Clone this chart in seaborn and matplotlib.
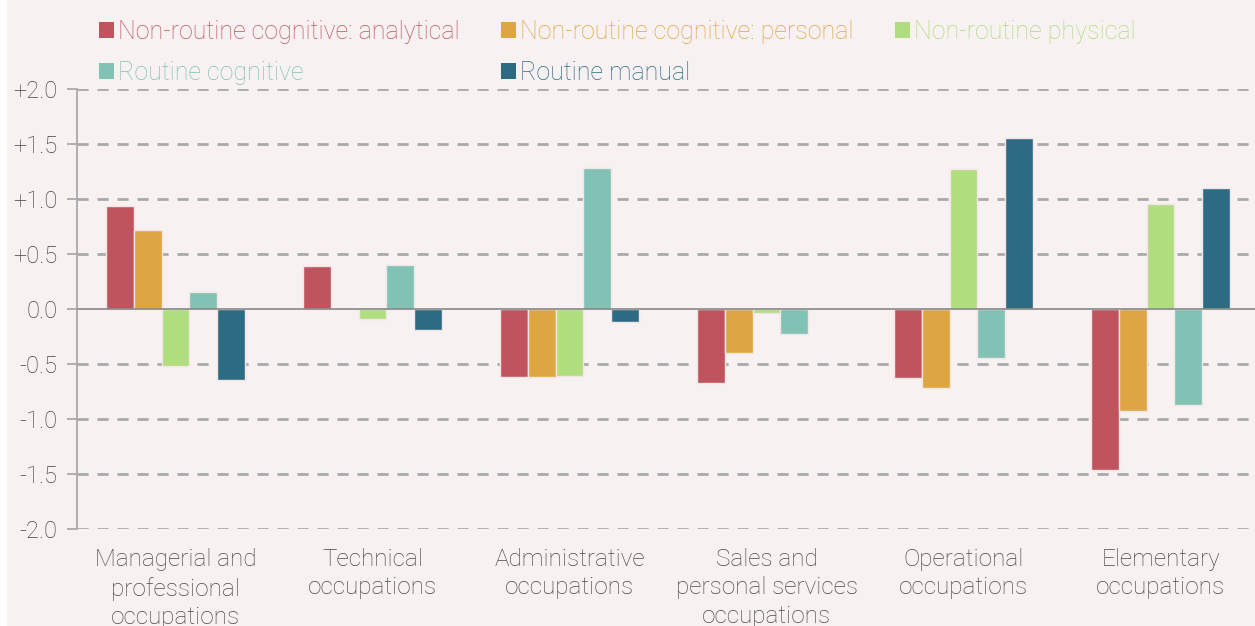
import pandas as pd
import matplotlib.pyplot as plt
import seaborn as sns
from matplotlib.patches import Rectangle, Patch

# ====================== DATA ======================
occupations = [
    'Managerial and\nprofessional\noccupations',
    'Technical\noccupations',
    'Administrative\noccupations',
    'Sales and\npersonal services\noccupations',
    'Operational\noccupations',
    'Elementary\noccupations',
]
tasks = [
    'Non-routine cognitive: analytical',
    'Non-routine cognitive: personal',
    'Non-routine physical',
    'Routine cognitive',
    'Routine manual',
]
analytical = [0.94, 0.39, -0.62, -0.67, -0.63, -1.46]
personal = [0.72, 0.0, -0.62, -0.40, -0.72, -0.93]
physical = [-0.52, -0.09, -0.61, -0.035, 1.27, 0.955]
routine_cognitive = [0.155, 0.40, 1.28, -0.23, -0.445, -0.87]
routine_manual = [-0.645, -0.19, -0.115, 0.0, 1.555, 1.10]
y_ticks = [2.0, 1.5, 1.0, 0.5, 0.0, -0.5, -1.0, -1.5, -2.0]
y_tick_labels = ['+2.0', '+1.5', '+1.0', '+0.5', '0.0', '-0.5', '-1.0', '-1.5', '-2.0']

colors = ['#bf545e', '#dea642', '#b0dd7e', '#80c3b5', '#2d6b83']
BG = '#f7f1f1'

series = [analytical, personal, physical, routine_cognitive, routine_manual]
rows = []
for task, vals in zip(tasks, series):
    for occ, v in zip(occupations, vals):
        rows.append({'occupation': occ, 'task': task, 'value': v})
df = pd.DataFrame(rows)

# ====================== PLOT ======================
sns.set_style('white')
plt.rcParams['font.family'] = ['Roboto', 'DejaVu Sans']

fig = plt.figure(figsize=(12.55, 6.26), dpi=100, facecolor='white')
fig.patches.append(Rectangle((7 / 1255, 0), 1, 1, transform=fig.transFigure,
                             facecolor=BG, edgecolor='none', zorder=-10))

ax = fig.add_axes([77 / 1255, 1 - 529 / 626, (1259 - 77) / 1255, (529 - 89) / 626])
ax.set_facecolor(BG)

sns.barplot(data=df, x='occupation', y='value', hue='task', order=occupations,
            hue_order=tasks, palette=colors, saturation=1, width=0.71,
            edgecolor='#f4e6e6', linewidth=1.0, ax=ax, legend=False, zorder=3)

ax.set_ylim(-2.0, 2.0)
ax.set_xlim(-0.5, 5.5)
ax.set_yticks(y_ticks)
ax.set_yticklabels(y_tick_labels)
for t in y_ticks:
    if t != 0:
        ax.axhline(t, color='#aaaaaa', lw=2, ls=(0, (4, 3.2)), zorder=1)
ax.axhline(0, color='#888888', lw=1.2, zorder=4)

for s in ['top', 'right', 'bottom']:
    ax.spines[s].set_visible(False)
ax.spines['left'].set_color('#aaaaaa')
ax.spines['left'].set_linewidth(1.3)

ax.tick_params(axis='y', length=7, width=1.3, color='#aaaaaa', labelsize=17,
               labelcolor='#444444', pad=7, left=True)
ax.tick_params(axis='x', length=0, labelsize=17.5, labelcolor='#4a4a4a', pad=14)
for lbl in ax.get_xticklabels():
    lbl.set_fontweight('light')
    lbl.set_linespacing(1.28)
for lbl in ax.get_yticklabels():
    lbl.set_fontweight('light')
ax.set_xlabel('')
ax.set_ylabel('')

# legend: text coloured like the bars, squares as handles
order = [0, 3, 1, 4, 2]
handles = [Patch(facecolor=colors[i], edgecolor='none') for i in order]
labels = [tasks[i] for i in order]
leg = fig.legend(handles, labels, ncol=3, loc='upper left',
                 bbox_to_anchor=(76 / 1255, 1 + 3 / 626), frameon=False,
                 prop={'size': 18, 'weight': 'light'}, handlelength=0.62,
                 handleheight=0.62, handletextpad=0.15, columnspacing=1.65,
                 labelspacing=0.7)
for txt, i in zip(leg.get_texts(), order):
    txt.set_color(colors[i])

fig.savefig('out.png', dpi=100, facecolor=fig.get_facecolor())
